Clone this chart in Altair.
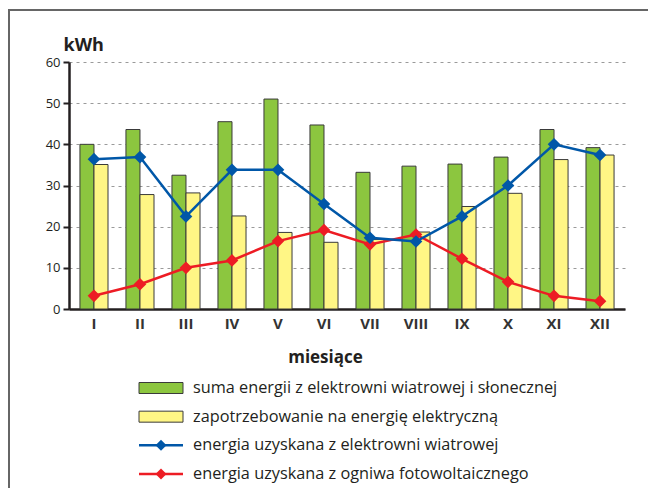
import altair as alt
import pandas as pd

months = ["I", "II", "III", "IV", "V", "VI", "VII", "VIII", "IX", "X", "XI", "XII"]
suma = [40.0, 43.6, 32.5, 45.5, 51.0, 44.7, 33.2, 34.7, 35.2, 36.9, 43.6, 39.2]
zapotrz = [35.1, 27.8, 28.2, 22.6, 18.6, 16.2, 16.9, 18.7, 24.9, 28.1, 36.3, 37.4]
wiatr = [36.4, 36.9, 22.5, 33.8, 33.8, 25.5, 17.3, 16.4, 22.5, 30.0, 40.0, 37.4]
foto = [3.2, 6.0, 10.0, 11.8, 16.5, 19.2, 15.7, 18.1, 12.2, 6.6, 3.2, 1.9]

names = [
    "suma energii z elektrowni wiatrowej i słonecznej",
    "zapotrzebowanie na energię elektryczną",
    "energia uzyskana z elektrowni wiatrowej",
    "energia uzyskana z ogniwa fotowoltaicznego",
]
colors = ["#8cc63f", "#fff685", "#0057a8", "#ed1c24"]
y_ticks = [0, 10, 20, 30, 40, 50, 60]

FONT = "Open Sans"
TXT = "#231f20"

bars_df = pd.DataFrame({
    "month": months * 2,
    "series": [names[0]] * 12 + [names[1]] * 12,
    "value": suma + zapotrz,
})
wind_df = pd.DataFrame({"month": months, "value": wiatr})
pv_df = pd.DataFrame({"month": months, "value": foto})

xscale = alt.Scale(domain=months, paddingInner=0.39, paddingOuter=0.238)
yscale = alt.Scale(domain=[0, 60], nice=False)

bars = alt.Chart(bars_df).mark_bar(stroke="#3a3a3a", strokeWidth=1).encode(
    x=alt.X("month:N", scale=xscale, sort=months,
            axis=alt.Axis(title="miesiące", labelAngle=0, ticks=False,
                          labelFont=FONT, labelFontSize=15, labelFontWeight="bold",
                          labelColor="#333333", labelPadding=7,
                          domainColor=TXT, domainWidth=2.5,
                          titleFont=FONT, titleFontSize=17, titleFontWeight="bold",
                          titleColor=TXT, titleX=256, titleY=53,
                          titleBaseline="alphabetic", titleAlign="center")),
    xOffset=alt.XOffset("series:N", sort=names[:2],
                        scale=alt.Scale(domain=names[:2], paddingInner=0, paddingOuter=0)),
    y=alt.Y("value:Q", scale=yscale,
            axis=alt.Axis(values=y_ticks, title="kWh", titleAngle=0,
                          titleX=-6, titleY=-12, titleAlign="left",
                          titleBaseline="alphabetic",
                          titleFont=FONT, titleFontSize=18, titleFontWeight="bold",
                          titleColor=TXT,
                          labelFont=FONT, labelFontSize=13, labelColor=TXT,
                          labelPadding=3, tickSize=6, tickWidth=2, tickColor=TXT,
                          domainColor=TXT, domainWidth=2.5,
                          grid=True, gridDash=[3, 4], gridColor="#9a9a9a",
                          gridWidth=1)),
    color=alt.Color("series:N", scale=alt.Scale(domain=names[:2], range=colors[:2]),
                    legend=None),
)

pv_line = alt.Chart(pv_df).mark_line(color=colors[3], strokeWidth=2.5).encode(
    x=alt.X("month:N", scale=xscale, sort=months),
    y=alt.Y("value:Q", scale=yscale),
)
pv_pts = alt.Chart(pv_df).mark_point(shape="diamond", filled=True, opacity=1,
                                      color=colors[3], size=160).encode(
    x=alt.X("month:N", scale=xscale, sort=months),
    y=alt.Y("value:Q", scale=yscale),
)
wind_line = alt.Chart(wind_df).mark_line(color=colors[2], strokeWidth=2.5).encode(
    x=alt.X("month:N", scale=xscale, sort=months),
    y=alt.Y("value:Q", scale=yscale),
)
wind_pts = alt.Chart(wind_df).mark_point(shape="diamond", filled=True, opacity=1,
                                          color=colors[2], size=160).encode(
    x=alt.X("month:N", scale=xscale, sort=months),
    y=alt.Y("value:Q", scale=yscale),
)

main = alt.layer(bars, pv_line, pv_pts, wind_line, wind_pts)

# legend
leg_df = pd.DataFrame({"name": names, "color": colors, "idx": list(range(len(names)))})
leg_y = alt.Y("idx:Q", scale=alt.Scale(domain=[0, 3], range=[326, 412], nice=False,
                                       zero=False),
              axis=None)
rect_shape = "M-1,-0.25L1,-0.25L1,0.25L-1,0.25Z"
leg_rects = alt.Chart(leg_df.iloc[:2]).mark_point(
    shape=rect_shape, filled=True, opacity=1, size=1936,
    stroke="#3a3a3a", strokeWidth=1).encode(
    x=alt.value(92), y=leg_y,
    fill=alt.Color("color:N", scale=None),
)
leg_rules = alt.Chart(leg_df.iloc[2:]).mark_rule(strokeWidth=2.5).encode(
    x=alt.value(70), x2=alt.value(114), y=leg_y,
    color=alt.Color("color:N", scale=None),
)
leg_pts = alt.Chart(leg_df.iloc[2:]).mark_point(
    shape="diamond", filled=True, opacity=1, size=120).encode(
    x=alt.value(92), y=leg_y,
    color=alt.Color("color:N", scale=None),
)
leg_text = alt.Chart(leg_df).mark_text(
    align="left", baseline="middle", font=FONT, fontSize=16.3, color=TXT).encode(
    x=alt.value(124), y=leg_y, text="name:N",
)
legend = alt.layer(leg_rects, leg_rules, leg_pts, leg_text)

# frame
frame_v = alt.Chart(pd.DataFrame({"a": [0]})).mark_rule(
    color="#666666", strokeWidth=2).encode(
    x=alt.value(-60), y=alt.value(-52), y2=alt.value(460))
frame_h = alt.Chart(pd.DataFrame({"a": [0]})).mark_rule(
    color="#666666", strokeWidth=2).encode(
    x=alt.value(-61), x2=alt.value(640), y=alt.value(-52))

chart = alt.layer(main, legend, frame_v, frame_h).resolve_scale(
    y="independent"
).properties(
    width=556, height=247,
    autosize=alt.AutoSizeParams(type="none"),
    padding={"left": 61, "top": 54, "right": 23, "bottom": 179},
).configure_view(stroke=None)

chart.save("out.html", embed_options={"renderer": "svg", "actions": False})
